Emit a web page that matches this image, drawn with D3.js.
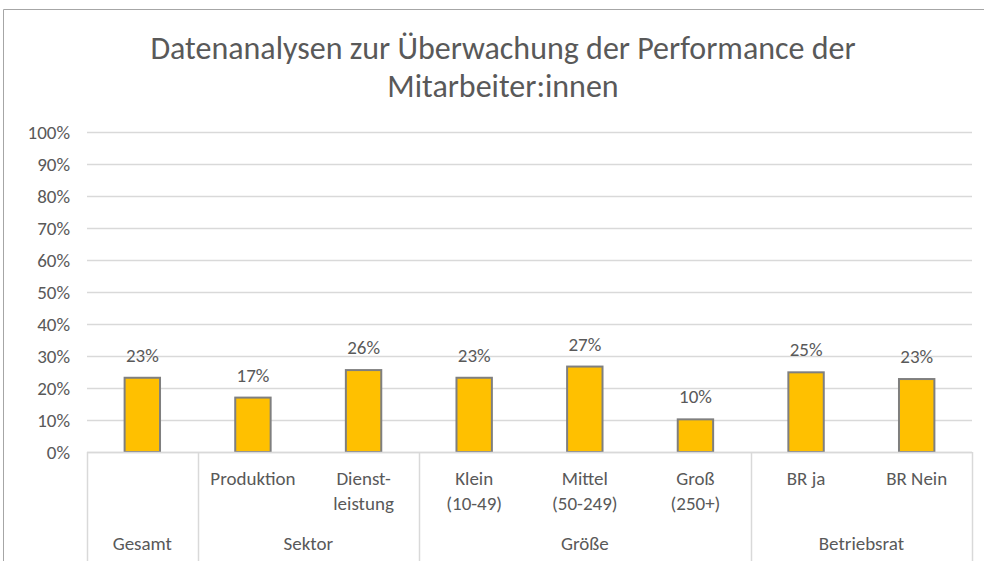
<!DOCTYPE html>
<html>
<head>
<meta charset="utf-8">
<script src="https://cdn.jsdelivr.net/npm/d3@7/dist/d3.min.js"></script>
<style>
  body { margin: 0; background: #fff; }
  text { font-family: Carlito, Calibri, Lato, sans-serif; fill: #595959; }
</style>
</head>
<body>
<div id="vis"></div>
<script>
// DATA
const categories = ["", "Produktion", "Dienst-\nleistung", "Klein\n(10-49)", "Mittel\n(50-249)", "Groß\n(250+)", "BR ja", "BR Nein"];
const shares = [0.232, 0.170, 0.256, 0.232, 0.267, 0.102, 0.249, 0.228];
const groups = ["Gesamt", "Sektor", "Größe", "Betriebsrat"];
const groupOf = [0, 1, 1, 2, 2, 2, 3, 3];
const yTicks = [0, 0.1, 0.2, 0.3, 0.4, 0.5, 0.6, 0.7, 0.8, 0.9, 1.0];
const titleLines = ["Datenanalysen zur Überwachung der Performance der", "Mitarbeiter:innen"];

const width = 984, height = 561;
const plot = {left: 87, right: 972, top: 132, bottom: 452};
const fs = "19px";

const svg = d3.select("#vis").append("svg")
  .attr("width", width)
  .attr("height", height);

// chart border
svg.append("path")
  .attr("d", `M3.5,${height} V9.5 H${width}`)
  .attr("fill", "none")
  .attr("stroke", "#a6a6a6")
  .attr("stroke-width", 1);

// SCALES
const x = d3.scaleBand()
  .domain(d3.range(categories.length))
  .range([plot.left, plot.right]);

const y = d3.scaleLinear()
  .domain([0, 1])
  .range([plot.bottom, plot.top]);

// title
svg.append("g").selectAll("text")
  .data(titleLines)
  .join("text")
  .attr("x", 503)
  .attr("y", (d, i) => 59 + i * 38)
  .attr("text-anchor", "middle")
  .style("font-size", "32px")
  .style("font-weight", 300)
  .text(d => d);

// gridlines
svg.append("g").selectAll("line")
  .data(yTicks)
  .join("line")
  .attr("x1", plot.left)
  .attr("x2", plot.right)
  .attr("y1", d => Math.round(y(d)) + 0.5)
  .attr("y2", d => Math.round(y(d)) + 0.5)
  .attr("stroke", "#d9d9d9")
  .attr("stroke-width", 1.5);

// y axis labels
const yAxis = svg.append("g")
  .attr("transform", `translate(${plot.left},0)`)
  .call(d3.axisLeft(y).tickValues(yTicks).tickFormat(d3.format(".0%")).tickSize(0).tickPadding(17));
yAxis.select(".domain").remove();
yAxis.selectAll("text")
  .style("font-size", fs)
  .attr("fill", "#595959");

// bars
const barW = x.bandwidth() * 0.32;
svg.append("g").selectAll("rect")
  .data(shares)
  .join("rect")
  .attr("x", (d, i) => x(i) + (x.bandwidth() - barW) / 2)
  .attr("y", d => y(d))
  .attr("width", barW)
  .attr("height", d => y(0) - y(d))
  .attr("fill", "#ffc000")
  .attr("stroke", "#7f7f7f")
  .attr("stroke-width", 2);

// value labels
svg.append("g").selectAll("text")
  .data(shares)
  .join("text")
  .attr("x", (d, i) => x(i) + x.bandwidth() / 2)
  .attr("y", d => y(d) - 16)
  .attr("text-anchor", "middle")
  .style("font-size", fs)
  .text(d => d3.format(".0%")(d));

// category axis (two levels)
const axisG = svg.append("g");
axisG.append("line")
  .attr("x1", plot.left).attr("x2", plot.right)
  .attr("y1", plot.bottom + 0.5).attr("y2", plot.bottom + 0.5)
  .attr("stroke", "#d9d9d9").attr("stroke-width", 1.5);

// group spans
const spans = groups.map((g, gi) => {
  const idx = groupOf.map((v, i) => v === gi ? i : -1).filter(i => i >= 0);
  return {name: g, x0: x(idx[0]), x1: x(idx[idx.length - 1]) + x.bandwidth()};
});
const edges = [spans[0].x0].concat(spans.map(s => s.x1));

axisG.selectAll("line.sep")
  .data(edges)
  .join("line")
  .attr("class", "sep")
  .attr("x1", d => Math.round(d) + 0.5)
  .attr("x2", d => Math.round(d) + 0.5)
  .attr("y1", plot.bottom)
  .attr("y2", height)
  .attr("stroke", "#d9d9d9")
  .attr("stroke-width", 1.5);

const catText = axisG.selectAll("text.cat")
  .data(categories)
  .join("text")
  .attr("class", "cat")
  .attr("text-anchor", "middle")
  .style("font-size", fs);
catText.each(function(d, i) {
  const lines = d.split("\n");
  d3.select(this).selectAll("tspan")
    .data(lines)
    .join("tspan")
    .attr("x", x(i) + x.bandwidth() / 2)
    .attr("y", (l, j) => 485 + j * 25)
    .text(l => l);
});

axisG.selectAll("text.grp")
  .data(spans)
  .join("text")
  .attr("class", "grp")
  .attr("x", d => (d.x0 + d.x1) / 2)
  .attr("y", 550)
  .attr("text-anchor", "middle")
  .style("font-size", fs)
  .text(d => d.name);
</script>
</body>
</html>
